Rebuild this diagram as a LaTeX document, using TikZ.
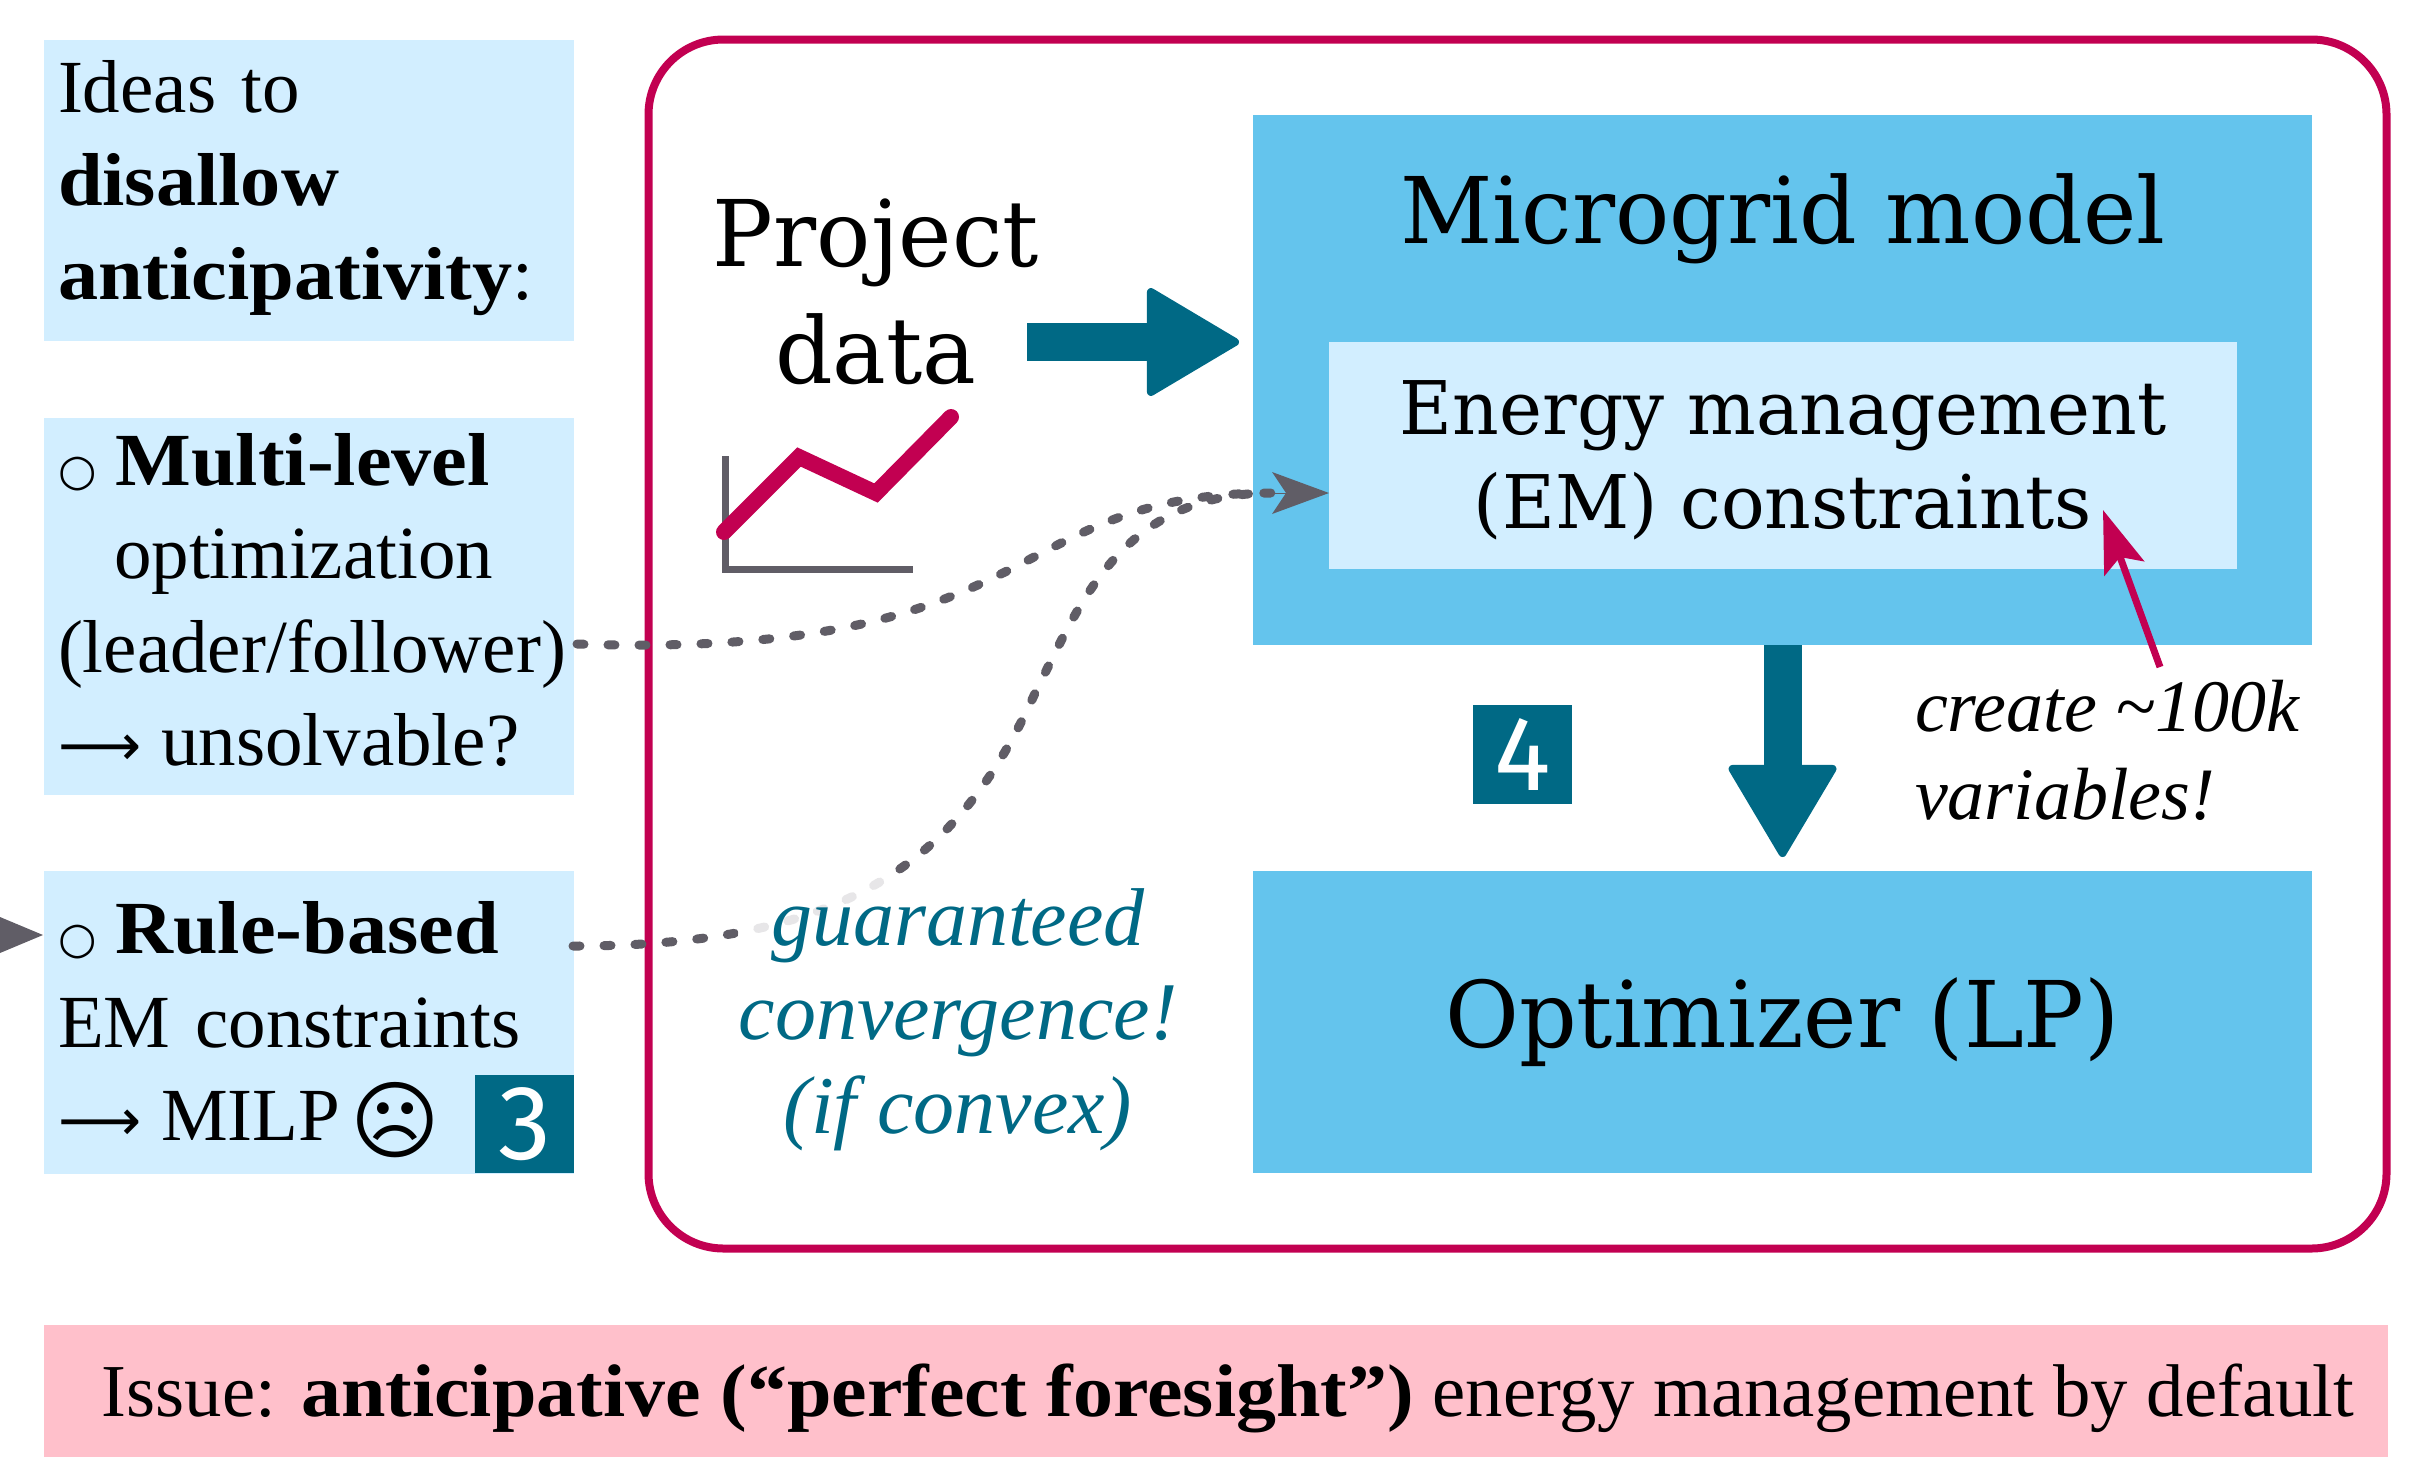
\documentclass[tikz,border=0pt]{standalone}
\usepackage{fontspec}
\setmainfont{Liberation Serif}[BoldFeatures={FakeStretch=1.07}]
\newfontfamily\symfont{DejaVu Sans}
\newfontfamily\slabfont[FakeStretch=0.98]{DejaVu Serif}
\newfontfamily\badgefont{Fira Sans}
\usetikzlibrary{arrows.meta}
\definecolor{lightblue}{HTML}{D2EEFF}
\definecolor{midblue}{HTML}{64C4ED}
\definecolor{teal2}{HTML}{006985}
\definecolor{crim}{HTML}{C20051}
\definecolor{gray2}{HTML}{605D66}
\definecolor{pink2}{HTML}{FFC0CB}
\newcommand{\circmark}{{\symfont\fontsize{44}{44}\selectfont ○}\hspace*{19pt}}
\newcommand{\longarr}{{\symfont\fontsize{58}{58}\selectfont ⟶}\hspace*{20pt}}
\tikzset{
  x=1pt,y=-1pt,
  every node/.style={inner sep=0pt,outer sep=0pt},
  sidebox/.style={fill=lightblue,minimum width=530pt},
  sidetext/.style={text width=502pt,align=left,font=\fontsize{75}{93.5}\selectfont},
  bigbox/.style={fill=midblue,minimum width=1059pt},
  badge/.style={fill=teal2,text=white,font=\badgefont\fontsize{106}{106}\selectfont,align=center},
  dotline/.style={gray2,line width=9pt,line cap=round,dash pattern=on 7pt off 24pt},
  dothead/.style={-{Stealth[length=57pt,width=42pt,inset=14pt,fill=gray2,line width=0pt]}},
  fatarrow/.style={teal2,line width=38pt,-{Triangle[length=96pt,width=112pt,round,line width=8pt]}},
}
\begin{document}
\begin{tikzpicture}
\useasboundingbox (0,0) rectangle (2432,1457);

% left column
\node[sidebox,minimum height=301pt] (ideas) at (309,190.5) {};
\node[sidetext] (ideastxt) at (309,188)
  {Ideas to\\\textbf{disallow}\\\textbf{anticipativity}:};
\node[sidebox,minimum height=377pt] (multi) at (309,606) {};
\node[sidetext] (multitxt) at (309,600)
  {\circmark\textbf{Multi-level}\\\hspace*{56pt}optimization\\(leader/follower)\\\longarr unsolvable?};
\node[sidebox,minimum height=303pt] (rule) at (309,1022) {};
\node[sidetext] (ruletxt) at (309,1030)
  {\circmark\textbf{Rule-based}\\EM constraints\\\longarr MILP\hspace*{10pt}\raisebox{-11pt}{\symfont\fontsize{86}{86}\selectfont ☹}};
\node[badge,minimum width=99pt,minimum height=98pt] (b3) at (524.5,1124) {3};
\fill[gray2] (0,917) -- (43,935) -- (0,953) -- cycle;

% frame
\node[draw=crim,line width=8pt,rounded corners=75pt,minimum width=1738pt,minimum height=1209pt] (frame) at (1517.5,644) {};

% microgrid
\node[bigbox,minimum height=530pt] (micro) at (1782.5,380) {};
\node[font=\slabfont\fontsize{92}{92}\selectfont,anchor=base] (microtxt) at (1783,243) {Microgrid model};
\node[fill=lightblue,minimum width=908pt,minimum height=227pt] (em) at (1783,455.5) {};
\node[align=center,font=\slabfont\fontsize{74}{94}\selectfont] (emtxt) at (1783,460)
  {Energy management\\(EM) constraints};
\node[bigbox,minimum height=302pt,font=\slabfont\fontsize{92}{92}\selectfont] (opt) at (1782.5,1022) {Optimizer (LP)};

% project data
\node[font=\slabfont\fontsize{92}{117}\selectfont,align=center] (pdata) at (876,292) {Project\\data};
\draw[gray2,line width=7pt] (725,456) -- (725,569.5) -- (913,569.5);
\draw[crim,line width=16pt,line cap=round,miter limit=10] (724,532) -- (799,457) -- (876,493) -- (951,417);

% dotted links
\coordinate (s1) at (577,644);
\coordinate (s2) at (573,946);
\coordinate (e1) at (1272,493);
\coordinate (e2) at (1329,493);
\draw[dotline] (s1) .. controls (1050,660) and (1000,493) .. (e1);
\draw[dotline] (s2) .. controls (850,946) and (960,860) .. (1036,691) .. controls (1080,605) and (1120,493) .. (e1);
\draw[gray2,line width=1pt,dothead] (e1) -- (e2);

% guaranteed
\node[fill=white,fill opacity=.85,text opacity=1,text=teal2,align=center,minimum width=440pt,minimum height=290pt,font=\itshape\fontsize{82}{94}\selectfont] (conv) at (958,1020)
  {guaranteed\\convergence!\\(if convex)};

% thick arrows
\coordinate (a1) at (1027,342);
\coordinate (a2) at (1239,342);
\draw[fatarrow] (a1) -- (a2);
\draw[fatarrow,shorten >=14pt] (micro.south) -- (opt.north);

% variables note
\node[anchor=north west,align=left,font=\itshape\fontsize{74}{88}\selectfont] (note) at (1915,680)
  {create \textasciitilde100k\\variables!};
\coordinate (n1) at (2160,667);
\coordinate (n2) at (2103,510);
\draw[crim,line width=7pt,-{Stealth[length=62pt,width=42pt,inset=12pt]}] (n1) -- (n2);
\node[badge,minimum width=99pt,minimum height=99pt] (b4) at (1522.5,754.5) {4};

% issue
\node[fill=pink2,minimum width=2344pt,minimum height=132pt] (issue) at (1216,1391) {};
\node[font=\fontsize{74.7}{76}\selectfont] (issuetxt) at (1228,1398)
  {Issue: \textbf{anticipative (“perfect foresight”)} energy management by default};
\end{tikzpicture}
\end{document}
